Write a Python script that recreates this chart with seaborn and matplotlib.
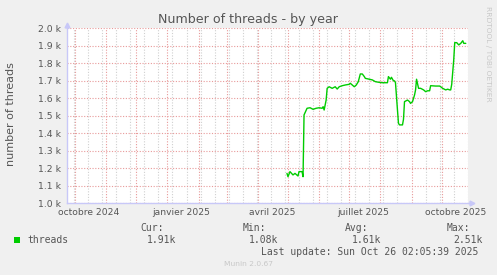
import numpy as np
import pandas as pd
import matplotlib
matplotlib.use("Agg")
import matplotlib.pyplot as plt
import matplotlib.dates as mdates
import matplotlib.transforms as mtransforms
import seaborn as sns

# ---- data ----
dates = [
    "2025-04-30", "2025-05-01", "2025-05-03", "2025-05-06", "2025-05-08", "2025-05-11",
    "2025-05-12", "2025-05-15", "2025-05-16", "2025-05-17", "2025-05-20", "2025-05-23",
    "2025-05-26", "2025-05-29", "2025-06-01", "2025-06-04", "2025-06-05", "2025-06-06",
    "2025-06-08", "2025-06-09", "2025-06-11", "2025-06-14", "2025-06-17", "2025-06-19",
    "2025-06-21", "2025-06-24", "2025-06-27", "2025-07-01", "2025-07-02", "2025-07-04",
    "2025-07-06", "2025-07-08", "2025-07-10", "2025-07-12", "2025-07-14", "2025-07-16",
    "2025-07-17", "2025-07-21", "2025-07-24", "2025-07-27", "2025-07-31", "2025-08-03",
    "2025-08-08", "2025-08-09", "2025-08-11", "2025-08-12", "2025-08-14", "2025-08-15",
    "2025-08-16", "2025-08-18", "2025-08-19", "2025-08-20", "2025-08-23", "2025-08-24",
    "2025-08-25", "2025-08-28", "2025-08-30", "2025-08-31", "2025-09-02", "2025-09-04",
    "2025-09-05", "2025-09-06", "2025-09-08", "2025-09-10", "2025-09-13", "2025-09-15",
    "2025-09-17", "2025-09-19", "2025-09-20", "2025-09-25", "2025-09-29", "2025-09-30",
    "2025-10-02", "2025-10-05", "2025-10-07", "2025-10-09", "2025-10-10", "2025-10-11",
    "2025-10-13", "2025-10-14", "2025-10-16", "2025-10-18", "2025-10-20", "2025-10-22",
    "2025-10-23", "2025-10-25",
]
threads = [
    1171, 1152, 1181, 1162, 1171, 1156,
    1181, 1181, 1152, 1505, 1543, 1546,
    1537, 1543, 1546, 1543, 1552, 1533,
    1590, 1657, 1666, 1657, 1666, 1653,
    1666, 1672, 1676, 1680, 1686, 1676,
    1666, 1676, 1695, 1739, 1739, 1724,
    1714, 1709, 1705, 1695, 1691, 1689,
    1689, 1724, 1709, 1720, 1700, 1700,
    1690, 1533, 1457, 1448, 1448, 1480,
    1581, 1590, 1581, 1571, 1581, 1619,
    1648, 1709, 1657, 1657, 1648, 1638,
    1643, 1643, 1672, 1670, 1670, 1666,
    1657, 1648, 1652, 1648, 1648, 1680,
    1819, 1918, 1918, 1905, 1914, 1929,
    1914, 1914,
]
y_ticks = [1000, 1100, 1200, 1300, 1400, 1500, 1600, 1700, 1800, 1900, 2000]
y_labels = ["1.0 k", "1.1 k", "1.2 k", "1.3 k", "1.4 k", "1.5 k",
            "1.6 k", "1.7 k", "1.8 k", "1.9 k", "2.0 k"]
x_label_dates = ["2024-10-15", "2025-01-15", "2025-04-15", "2025-07-15", "2025-10-15"]
x_labels = ["octobre 2024", "janvier 2025", "avril 2025", "juillet 2025", "octobre 2025"]
legend_stats = {"Cur:": "1.91k", "Min:": "1.08k", "Avg:": "1.61k", "Max:": "2.51k"}

df = pd.DataFrame({"date": pd.to_datetime(dates), "threads": threads})

# ---- style ----
sns.set_style("white")
plt.rcParams["font.family"] = ["DejaVu Sans"]

BG = "#F0F0F0"
TXT = "#555555"
MGRID = "#E89A9A"
GRID = "#D0D0D0"
AXIS = "#C8C8F8"
GREEN = "#00CC00"

fig = plt.figure(figsize=(4.97, 2.75), dpi=100, facecolor=BG)
W, H = 497, 275
left, right, top, bottom = 66.5, 468, 28.3, 203.3
ax = fig.add_axes([left / W, 1 - bottom / H, (right - left) / W, (bottom - top) / H])
ax.set_facecolor("white")

sns.lineplot(data=df, x="date", y="threads", ax=ax, color=GREEN, linewidth=1.0, legend=False)

ax.set_xlim(pd.Timestamp("2024-09-22 13:00"), pd.Timestamp("2025-10-27 05:00"))
ax.set_ylim(1000, 2000)

# grids
month_starts = pd.date_range("2024-10-01", "2025-10-01", freq="MS")
biweekly = pd.date_range("2024-09-30", "2025-10-27", freq="14D")
ax.xaxis.set_major_locator(matplotlib.ticker.FixedLocator(mdates.date2num(month_starts)))
ax.xaxis.set_minor_locator(matplotlib.ticker.FixedLocator(mdates.date2num(biweekly)))
ax.xaxis.set_major_formatter(matplotlib.ticker.NullFormatter())
ax.set_yticks(y_ticks)
ax.set_yticklabels(y_labels)

ax.grid(which="minor", axis="x", color=GRID, linestyle=(0, (1, 1.5)), linewidth=0.8)
ax.grid(which="major", axis="both", color=MGRID, linestyle=(0, (1, 1.5)), linewidth=0.8)
ax.set_axisbelow(True)

ax.tick_params(axis="x", which="major", length=2, color=MGRID, direction="out")
ax.tick_params(axis="x", which="minor", length=0)
ax.tick_params(axis="y", length=2, color=MGRID, labelsize=6.7, labelcolor=TXT, pad=2)

for s in ["top", "right"]:
    ax.spines[s].set_visible(False)
for s in ["left", "bottom"]:
    ax.spines[s].set_color(AXIS)
    ax.spines[s].set_linewidth(1.0)

# axis arrows
ax.plot([0], [1.02], marker="^", color=AXIS, markersize=3.5, transform=ax.transAxes, clip_on=False)
ax.plot([1.01], [0], marker=">", color=AXIS, markersize=3.5, transform=ax.transAxes, clip_on=False)
ax.plot([0, 0], [1.0, 1.02], color=AXIS, lw=1, transform=ax.transAxes, clip_on=False)
ax.plot([1.0, 1.01], [0, 0], color=AXIS, lw=1, transform=ax.transAxes, clip_on=False)

# month labels
trans = mtransforms.blended_transform_factory(ax.transData, fig.transFigure)
for d, lab in zip(x_label_dates, x_labels):
    ax.text(mdates.date2num(pd.Timestamp(d)), 1 - 212.7 / H, lab, transform=trans,
            ha="center", va="center", fontsize=6.6, color=TXT)

ax.set_xlabel("")
ax.set_ylabel("")

# titles / side texts
fig.text(248 / W, 1 - 19 / H, "Number of threads - by year", ha="center", va="center",
         fontsize=9.1, color=TXT)
fig.text(11.5 / W, 1 - 114 / H, "number of threads", rotation=90, ha="center", va="center",
         fontsize=8, color=TXT)
fig.text(488 / W, 1 - 53.5 / H, "RRDTOOL / TOBI OETIKER", rotation=270, ha="center",
         va="center", fontsize=5.4, color="#C8C8C8")

# legend area
mono = "DejaVu Sans Mono"
fig.patches.append(matplotlib.patches.Rectangle((14 / W, 1 - 242.7 / H), 6 / W, 5.5 / H,
                   transform=fig.transFigure, facecolor=GREEN, edgecolor="none"))
fig.text(27 / W, 1 - 239.7 / H, "threads", family=mono, fontsize=7, color=TXT, va="center")
stat_x = [140, 242.7, 345, 446.7]
for (k, v), sx in zip(legend_stats.items(), stat_x):
    fig.text(sx / W, 1 - 227.7 / H, k, family=mono, fontsize=7, color=TXT, va="center")
    fig.text((sx + 6.5) / W, 1 - 239.7 / H, v, family=mono, fontsize=7, color=TXT, va="center")
fig.text(261.3 / W, 1 - 251.7 / H, "Last update: Sun Oct 26 02:05:39 2025", family=mono,
         fontsize=7, color=TXT, va="center")
fig.text(248 / W, 1 - 264 / H, "Munin 2.0.67", ha="center", va="center", fontsize=5.4,
         color="#C8C8C8")

fig.savefig("out.png", dpi=100, facecolor=BG)
